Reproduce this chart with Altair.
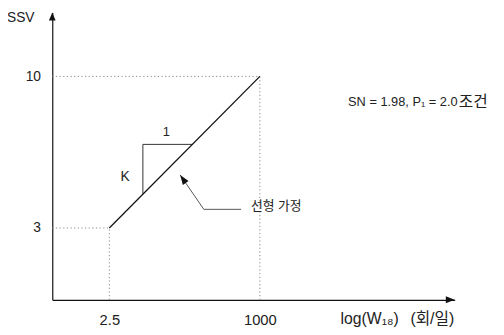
import altair as alt
import pandas as pd

# ---- data ----
x_ticks = [2.5, 1000]
x_tick_labels = ["2.5", "1000"]
y_ticks = [3, 10]
y_tick_labels = ["3", "10"]

line_w = [2.5, 1000]
line_ssv = [3, 10]

# slope triangle (vertical leg then horizontal leg)
tri_w = [9.5, 9.5, 68]
tri_ssv = [4.56, 6.86, 6.86]

x_domain = [0.258, 2.33e6]
y_domain = [-0.32, 12.95]

# left-aligned annotation texts
ann_text = ["SN = 1.98, P\u2081 = 2.0", "조건", "log(W\u2081\u2088)", "(회/일)", "선형 가정"]
ann_w = [33500, 2.75e6, 24800, 4.0e5, 703]
ann_ssv = [8.81, 8.81, -1.23, -1.23, 4.0]
ann_size = [13, 16, 16, 16, 13]

# centred annotation texts
cen_text = ["SSV", "1", "K"]
cen_w = [0.0736, 24.2, 4.68]
cen_ssv = [12.68, 7.41, 5.36]
cen_size = [14, 13, 14]

# leader arrow for "선형 가정"
lead_w = [475, 107.4, 41.9]
lead_ssv = [3.86, 3.86, 5.45]

FONT = "Liberation Sans, Noto Sans CJK KR, sans-serif"

xs = alt.Scale(type="log", domain=x_domain, nice=False, zero=False)
ys = alt.Scale(domain=y_domain, nice=False, zero=False)


def label_expr(vals, labels):
    parts = " : ".join(f"datum.value == {v} ? '{l}'" for v, l in zip(vals, labels))
    return parts + " : ''"


main_df = pd.DataFrame({"w": line_w, "ssv": line_ssv})

base = alt.Chart(main_df).mark_line(color="#111", strokeWidth=1.3).encode(
    x=alt.X("w:Q", scale=xs, title=None,
            axis=alt.Axis(values=x_ticks, labelExpr=label_expr(x_ticks, x_tick_labels),
                          ticks=False, grid=False, domainColor="#111", domainWidth=1.4,
                          labelFont=FONT, labelFontSize=15, labelColor="#222",
                          labelPadding=13, labelFlush=False)),
    y=alt.Y("ssv:Q", scale=ys, title=None,
            axis=alt.Axis(values=y_ticks, labelExpr=label_expr(y_ticks, y_tick_labels),
                          ticks=False, grid=False, domainColor="#111", domainWidth=1.2,
                          labelFont=FONT, labelFontSize=14, labelColor="#222",
                          labelPadding=12, labelFlush=False)),
)

# dotted guide lines from the line endpoints to the axes
guide_rows = []
for w, s in zip(line_w, line_ssv):
    guide_rows.append({"w": x_domain[0], "w2": w, "ssv": s, "ssv2": s})
    guide_rows.append({"w": w, "w2": w, "ssv": y_domain[0], "ssv2": s})
guides = alt.Chart(pd.DataFrame(guide_rows)).mark_rule(
    color="#888", strokeWidth=1, strokeDash=[1.2, 2.5]
).encode(
    x=alt.X("w:Q", scale=xs), x2="w2:Q",
    y=alt.Y("ssv:Q", scale=ys), y2="ssv2:Q",
)

tri = alt.Chart(pd.DataFrame({"w": tri_w, "ssv": tri_ssv, "o": [0, 1, 2]})).mark_line(
    color="#333", strokeWidth=1
).encode(x=alt.X("w:Q", scale=xs), y=alt.Y("ssv:Q", scale=ys), order="o:Q")

lead = alt.Chart(pd.DataFrame({"w": lead_w, "ssv": lead_ssv, "o": [0, 1, 2]})).mark_line(
    color="#444", strokeWidth=0.9
).encode(x=alt.X("w:Q", scale=xs), y=alt.Y("ssv:Q", scale=ys), order="o:Q")

lead_head = alt.Chart(pd.DataFrame({"w": [lead_w[-1]], "ssv": [lead_ssv[-1]]})).mark_point(
    shape="M0,0L-0.7,2L0.7,2Z", size=100, filled=True, color="#111", opacity=1, angle=325.6
).encode(x=alt.X("w:Q", scale=xs), y=alt.Y("ssv:Q", scale=ys))

# axis arrow heads at the ends of the axes
y_head = alt.Chart(pd.DataFrame({"w": [x_domain[0]], "ssv": [y_domain[1]]})).mark_point(
    shape="M0,0L-0.85,2L0.85,2Z", size=64, filled=True, color="#111", opacity=1
).encode(x=alt.X("w:Q", scale=xs), y=alt.Y("ssv:Q", scale=ys))

x_head = alt.Chart(pd.DataFrame({"w": [x_domain[1]], "ssv": [y_domain[0]]})).mark_point(
    shape="M0,0L-2,-0.8L-2,0.8Z", size=81, filled=True, color="#111", opacity=1
).encode(x=alt.X("w:Q", scale=xs), y=alt.Y("ssv:Q", scale=ys))

ann = alt.Chart(pd.DataFrame({"w": ann_w, "ssv": ann_ssv, "t": ann_text, "fs": ann_size})).mark_text(
    align="left", baseline="middle", font=FONT, color="#222"
).encode(x=alt.X("w:Q", scale=xs), y=alt.Y("ssv:Q", scale=ys), text="t:N",
         size=alt.Size("fs:Q", scale=None))

cen = alt.Chart(pd.DataFrame({"w": cen_w, "ssv": cen_ssv, "t": cen_text, "fs": cen_size})).mark_text(
    align="center", baseline="middle", font=FONT, color="#222"
).encode(x=alt.X("w:Q", scale=xs), y=alt.Y("ssv:Q", scale=ys), text="t:N",
         size=alt.Size("fs:Q", scale=None))

chart = alt.layer(guides, tri, base, lead, lead_head, y_head, x_head, ann, cen).properties(
    width=409, height=292,
    autosize=alt.AutoSizeParams(type="none"),
    padding={"left": 45, "top": 2, "right": 42, "bottom": 25},
    background="white",
).configure_view(stroke=None)

chart.save("out.html", embed_options={"renderer": "svg", "actions": False})
